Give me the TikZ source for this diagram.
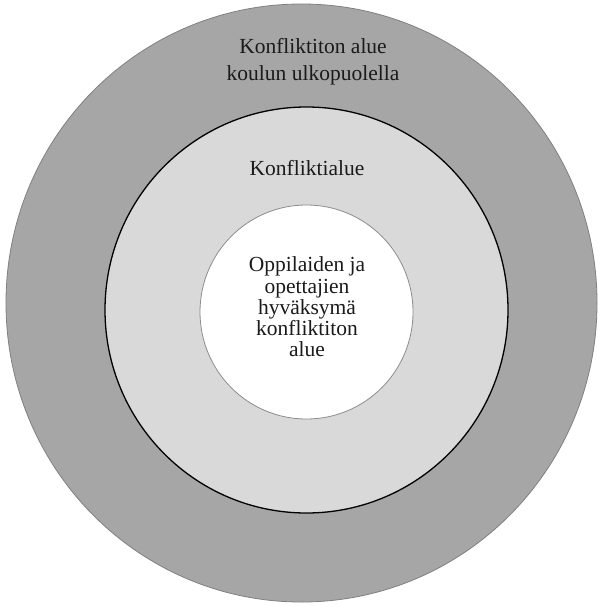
\documentclass[tikz,border=0pt]{standalone}
\usepackage{fontspec}
\setmainfont{Liberation Serif}
\definecolor{outerfill}{HTML}{A6A6A6}
\definecolor{midfill}{HTML}{D9D9D9}
\definecolor{outeredge}{HTML}{808080}
\definecolor{inneredge}{HTML}{8C8C8C}
\definecolor{txt}{HTML}{1A1A1A}
\begin{document}
\begin{tikzpicture}[x=1bp,y=-1bp,
  lbl/.style={inner sep=0pt,outer sep=0pt,text=txt,align=center,font=\fontsize{21.5bp}{27bp}\selectfont},
  tight/.style={font=\fontsize{21.5bp}{21.3bp}\selectfont}]
\useasboundingbox (0,0) rectangle (598,606);
\clip (0,0) rectangle (598,606);
\fill[white] (0,0) rectangle (598,606);
% outer zone
\draw[fill=outerfill,draw=outeredge,line width=0.8bp] (301.5,303) ellipse [x radius=295.5bp, y radius=299bp];
% middle zone
\draw[fill=midfill,draw=black,line width=1.3bp] (306.5,310) ellipse [x radius=201.5bp, y radius=203bp];
% inner zone
\draw[fill=white,draw=inneredge,line width=0.8bp] (306.5,312) ellipse [x radius=106.5bp, y radius=107bp];
% texts
\node[lbl] (outerlbl) at (313,61.5) {Konfliktiton alue\\koulun ulkopuolella};
\node[lbl,anchor=base] (midlbl) at (307,176) {Konfliktialue};
\node[lbl,tight] (innerlbl) at (307,307) {Oppilaiden ja\\opettajien\\hyväksymä\\konfliktiton\\alue};
\end{tikzpicture}
\end{document}
